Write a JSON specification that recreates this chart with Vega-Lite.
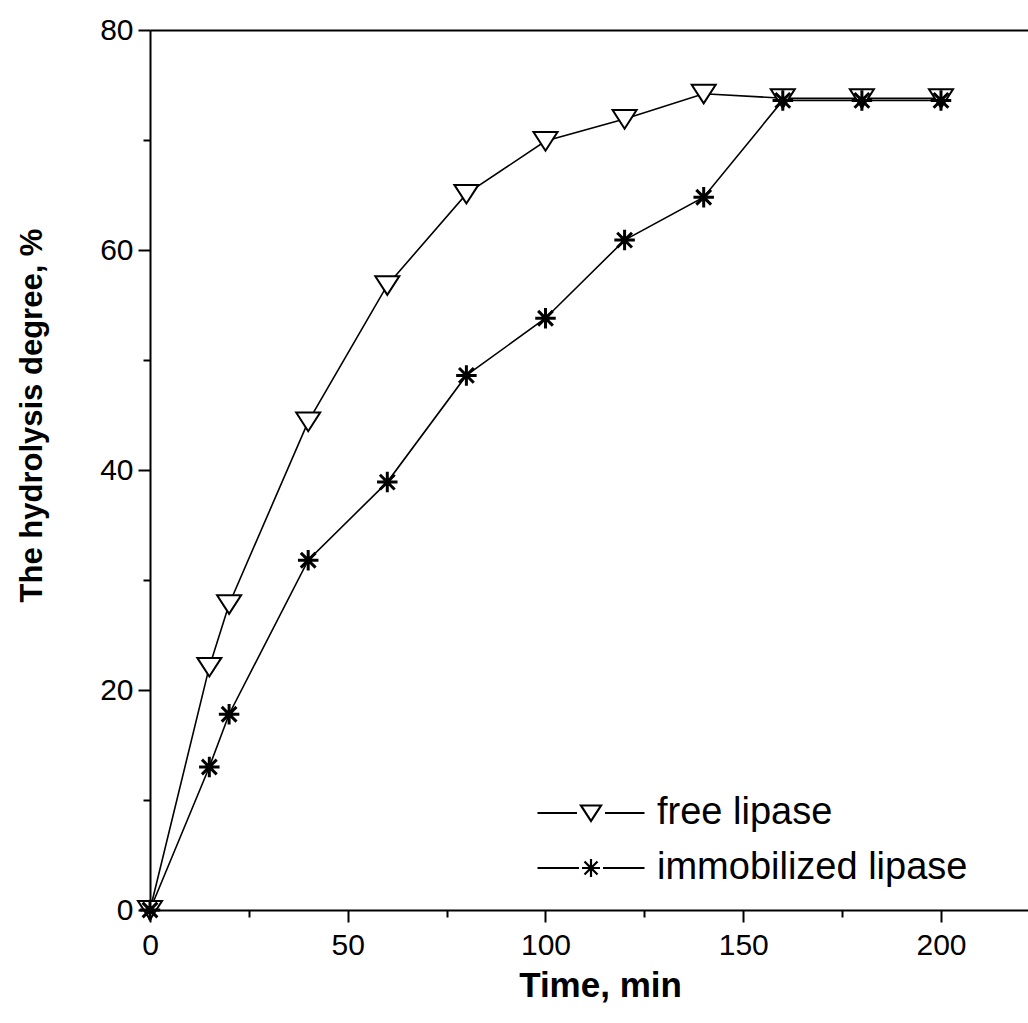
{
  "$schema": "https://vega.github.io/schema/vega-lite/v6.json",
  "width": 878,
  "height": 880,
  "autosize": {"type": "none"},
  "padding": {"left": 150, "top": 30, "right": 0, "bottom": 113},
  "background": "white",
  "config": {
    "view": {"stroke": null},
    "axis": {
      "domainColor": "black", "domainWidth": 2, "tickColor": "black", "tickWidth": 2,
      "labelColor": "black", "labelFont": "Liberation Sans", "labelFontSize": 30, "labelFlush": false,
      "titleColor": "black", "titleFont": "Liberation Sans", "titleFontWeight": "bold", "titleFontSize": 31,
      "grid": false
    }
  },
  "data": {"values": [
    {"t": 0, "h": 0, "s": "free lipase"},
    {"t": 15, "h": 22.1, "s": "free lipase"},
    {"t": 20, "h": 27.8, "s": "free lipase"},
    {"t": 40, "h": 44.4, "s": "free lipase"},
    {"t": 60, "h": 56.8, "s": "free lipase"},
    {"t": 80, "h": 65.1, "s": "free lipase"},
    {"t": 100, "h": 69.9, "s": "free lipase"},
    {"t": 120, "h": 71.9, "s": "free lipase"},
    {"t": 140, "h": 74.2, "s": "free lipase"},
    {"t": 160, "h": 73.8, "s": "free lipase"},
    {"t": 180, "h": 73.8, "s": "free lipase"},
    {"t": 200, "h": 73.8, "s": "free lipase"},
    {"t": 0, "h": 0, "s": "immobilized lipase"},
    {"t": 15, "h": 13.0, "s": "immobilized lipase"},
    {"t": 20, "h": 17.8, "s": "immobilized lipase"},
    {"t": 40, "h": 31.8, "s": "immobilized lipase"},
    {"t": 60, "h": 38.9, "s": "immobilized lipase"},
    {"t": 80, "h": 48.6, "s": "immobilized lipase"},
    {"t": 100, "h": 53.8, "s": "immobilized lipase"},
    {"t": 120, "h": 60.9, "s": "immobilized lipase"},
    {"t": 140, "h": 64.8, "s": "immobilized lipase"},
    {"t": 160, "h": 73.6, "s": "immobilized lipase"},
    {"t": 180, "h": 73.6, "s": "immobilized lipase"},
    {"t": 200, "h": 73.6, "s": "immobilized lipase"}
  ]},
  "resolve": {"axis": {"x": "independent"}},
  "encoding": {
    "y": {"field": "h", "type": "quantitative", "scale": {"domain": [0, 80], "nice": false},
          "axis": {"values": [0, 10, 20, 30, 40, 50, 60, 70, 80],
                   "labelExpr": "datum.value % 20 === 0 ? datum.label : ''",
                   "tickSize": {"condition": {"test": "datum.value % 20 === 0", "value": 12}, "value": 7},
                   "labelPadding": 5,
                   "title": "The hydrolysis degree, %", "titleAngle": 270, "titleX": -118, "titleY": 385,
                   "titleAlign": "center", "titleBaseline": "middle"}}
  },
  "layer": [
    {
      "mark": {"type": "line", "color": "black", "strokeWidth": 1.6},
      "encoding": {
        "x": {"field": "t", "type": "quantitative", "scale": {"domain": [0, 222], "nice": false},
              "axis": {"orient": "top", "labels": false, "ticks": false, "title": null, "domainWidth": 2}},
        "detail": {"field": "s"}
      }
    },
    {
      "transform": [{"filter": "datum.s === 'free lipase'"}],
      "mark": {"type": "point", "filled": false, "opacity": 1, "fill": "white", "stroke": "black", "size": 576, "strokeWidth": 2,
               "shape": "M-1,-0.75L1,-0.75L0,0.8Z"},
      "encoding": {
        "x": {"field": "t", "type": "quantitative", "scale": {"domain": [0, 222], "nice": false},
              "axis": {"values": [0, 25, 50, 75, 100, 125, 150, 175, 200],
                       "labelExpr": "datum.value % 50 === 0 ? datum.label : ''",
                       "tickSize": {"condition": {"test": "datum.value % 50 === 0", "value": 12}, "value": 7},
                       "labelPadding": 8,
                       "title": "Time, min", "titleFontSize": 35, "titleX": 450, "titleY": 75, "titleAlign": "center", "titleBaseline": "middle"}}
      }
    },
    {
      "transform": [{"filter": "datum.s === 'immobilized lipase'"}],
      "mark": {"type": "point", "filled": false, "opacity": 1, "stroke": "black", "size": 420, "strokeWidth": 3,
               "shape": "M-1,0L1,0M0,-1L0,1M-0.72,-0.72L0.72,0.72M-0.72,0.72L0.72,-0.72"},
      "encoding": {
        "x": {"field": "t", "type": "quantitative", "scale": {"domain": [0, 222], "nice": false}, "axis": null}
      }
    },
    {
      "transform": [{"filter": "datum.t > 1000"}],
      "mark": {"type": "point", "filled": false, "color": "black"},
      "encoding": {
        "x": {"field": "t", "type": "quantitative", "scale": {"domain": [0, 222], "nice": false}, "axis": null},
        "shape": {"field": "s", "type": "nominal",
                  "scale": {"domain": ["free lipase", "immobilized lipase"],
                            "range": ["M-5.35,0L-1.4,0M1.4,0L5.35,0M-1,-0.75L1,-0.75L0,0.8Z",
                                      "M-5.35,0L-1.2,0M1.2,0L5.35,0M-0.9,0L0.9,0M0,-0.9L0,0.9M-0.65,-0.65L0.65,0.65M-0.65,0.65L0.65,-0.65"]},
                  "legend": {
                    "orient": "none", "legendX": 422, "legendY": 764, "title": null,
                    "symbolSize": 400, "symbolStrokeWidth": 2.2, "symbolOpacity": 1,
                    "labelFont": "Liberation Sans", "labelFontSize": 38, "labelColor": "black", "labelLimit": 600,
                    "labelOffset": 47, "rowPadding": 17
                  }}
      }
    }
  ]
}
